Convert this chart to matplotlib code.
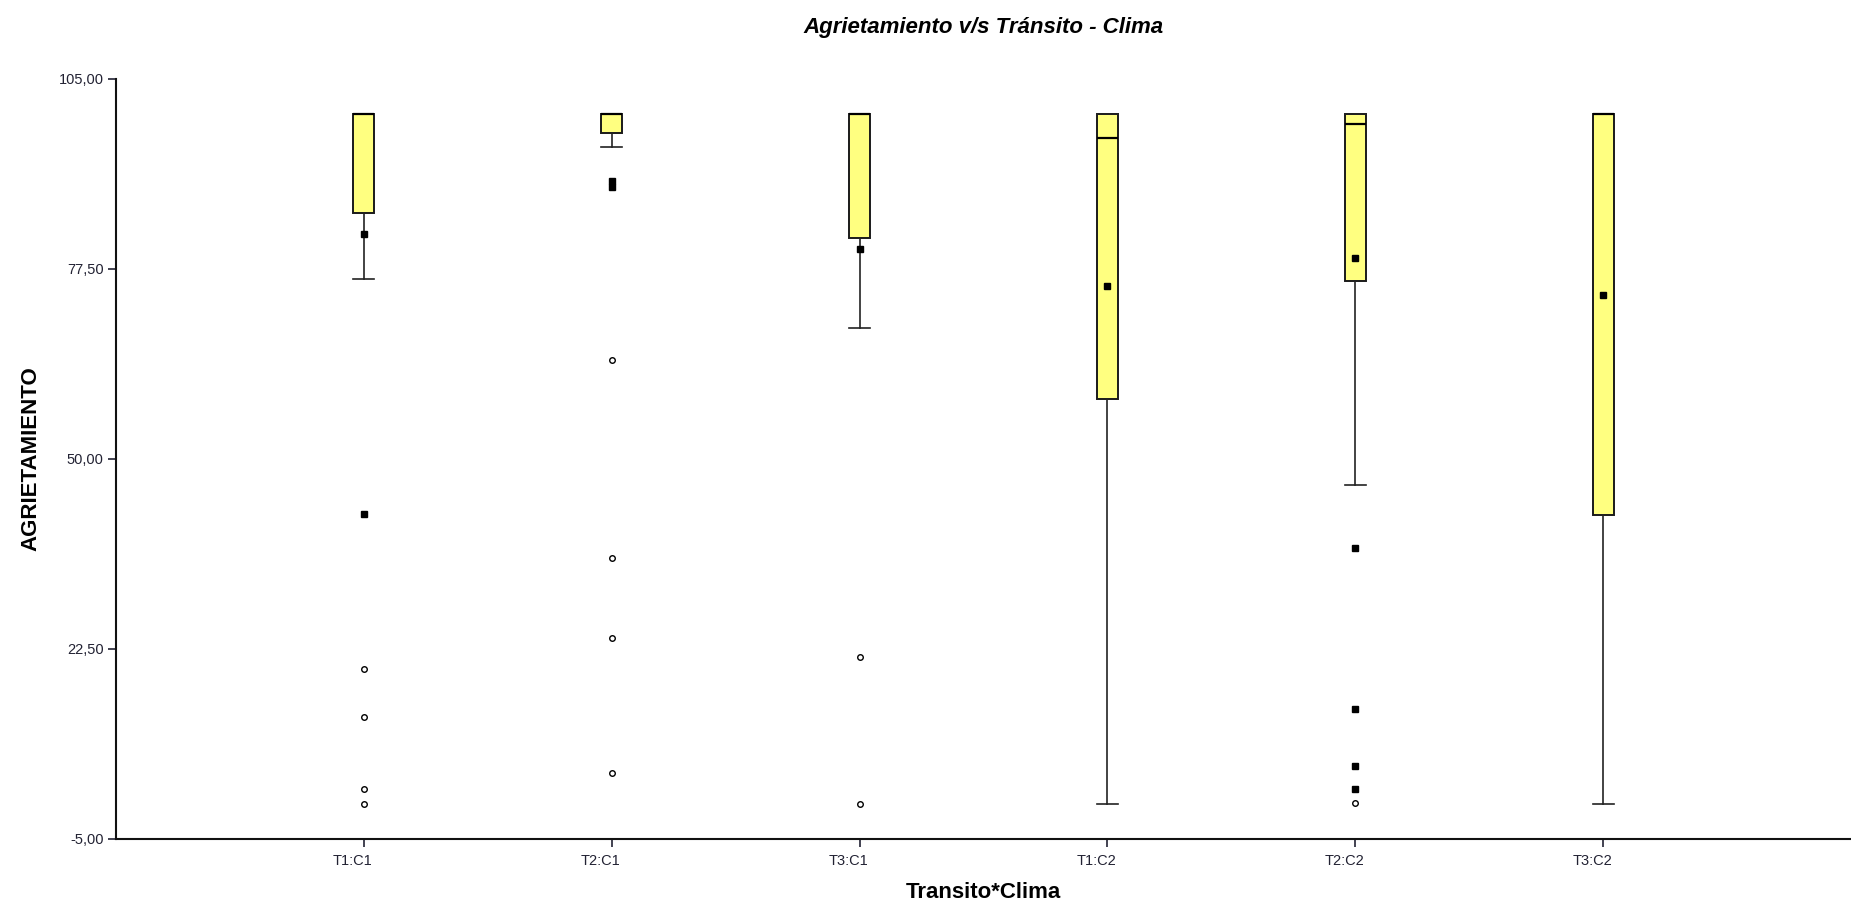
import matplotlib.pyplot as plt #library for generating graphs
import matplotlib.transforms as mtransforms
from matplotlib.ticker import FuncFormatter

plt.rcParams['font.family'] = ['Liberation Sans', 'DejaVu Sans']

categorias = ["T1:C1", "T2:C1", "T3:C1", "T1:C2", "T2:C2", "T3:C2"]
q1 = [85.6, 97.2, 82.0, 58.7, 75.7, 41.9] #lower quartile
mediana = [100.0, 100.0, 100.0, 96.4, 98.5, 100.0]
q3 = [100.0, 100.0, 100.0, 100.0, 100.0, 100.0] #upper quartile
bigote_inf = [76.1, 95.1, 69.0, 0.0, 46.2, 0.0] #lower whisker
bigote_sup = [100.0, 100.0, 100.0, 100.0, 100.0, 100.0]
#filled squares (means and far values)
cuadrados = [[82.6, 42.0], [90.2, 89.4], [80.4], [75.1], [79.1, 37.1, 13.8, 5.5, 2.3], [73.8]]
#open circles (outliers)
circulos = [[19.6, 12.6, 2.3, 0.0], [64.3, 35.6, 24.1, 4.6], [21.3, 0.0], [], [0.2], []]
yticks = [-5, 22.5, 50, 77.5, 105]

posiciones = list(range(1, len(categorias) + 1))
stats = []
for i in range(len(categorias)):
    stats.append(dict(med=mediana[i], q1=q1[i], q3=q3[i], whislo=bigote_inf[i], whishi=bigote_sup[i], fliers=[]))

fig = plt.figure(figsize=(18.51, 9.01), dpi=100)
ax = fig.add_axes([116/1851, 1 - 839/901, 1 - 116/1851, (839 - 79)/901])

ancho = 0.085
ax.bxp(stats, positions=posiciones, widths=ancho, capwidths=ancho, patch_artist=True, showfliers=False,
       boxprops=dict(facecolor='#ffff80', edgecolor='#1a1a1a', linewidth=1.4),
       medianprops=dict(color='black', linewidth=1.6),
       whiskerprops=dict(color='#222222', linewidth=1.2),
       capprops=dict(color='#222222', linewidth=1.2))

for x, ys in zip(posiciones, cuadrados):
    ax.plot([x]*len(ys), ys, linestyle='none', marker='s', markersize=4.5, color='black', zorder=5)
for x, ys in zip(posiciones, circulos):
    ax.plot([x]*len(ys), ys, linestyle='none', marker='o', markersize=4, markerfacecolor='white',
            markeredgecolor='black', markeredgewidth=1.0, zorder=5)

ax.set_xlim(0, 7)
ax.set_ylim(-5, 105)
ax.set_xticks(posiciones)
ax.set_xticklabels(categorias)
ax.set_yticks(yticks)
ax.yaxis.set_major_formatter(FuncFormatter(lambda v, p: f"{v:.2f}".replace('.', ',')))
ax.tick_params(axis='both', direction='out', length=6, width=1.2, labelsize=10.5, colors='#222233', pad=3)
ax.tick_params(axis='x', pad=5)
#x labels sit a bit left of their ticks in the original
desplaza = mtransforms.ScaledTranslation(-11/100, 0, fig.dpi_scale_trans)
for lab in ax.get_xticklabels():
    lab.set_transform(lab.get_transform() + desplaza)

for lado in ['top', 'right']:
    ax.spines[lado].set_visible(False)
for lado in ['left', 'bottom']:
    ax.spines[lado].set_linewidth(1.5)
    ax.spines[lado].set_color('#111111')

ax.set_title("Agrietamiento v/s Tránsito - Clima", fontsize=16, fontweight='bold', fontstyle='italic', pad=33)
ax.set_xlabel("Transito*Clima", fontsize=16, fontweight='bold', labelpad=10)
ax.set_ylabel("AGRIETAMIENTO", fontsize=16, fontweight='bold', labelpad=12)

fig.savefig("out.png", dpi=100)
